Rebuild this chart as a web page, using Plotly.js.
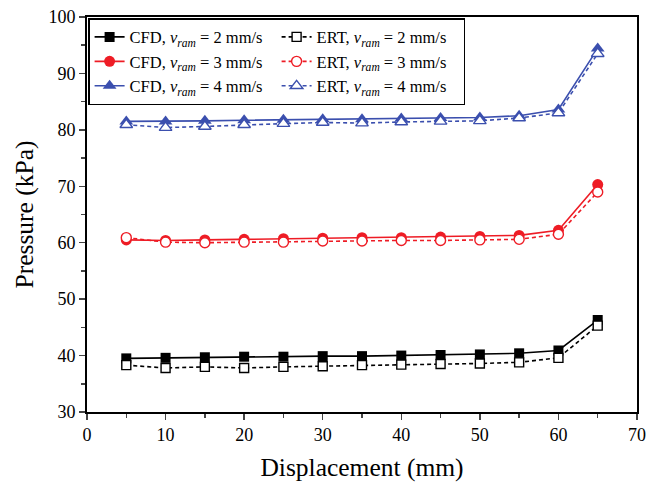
<!DOCTYPE html>
<html><head><meta charset="utf-8">
<script src="https://cdn.plot.ly/plotly-3.0.1.min.js"></script>
<style>html,body{margin:0;padding:0;background:#fff}#chart{width:655px;height:486px}</style>
</head><body><div id="chart"></div>
<script>
const displacement = [5,10,15,20,25,30,35,40,45,50,55,60,65];
const cfd2 = [39.5,39.6,39.7,39.8,39.8,39.9,39.9,40.0,40.1,40.2,40.4,40.9,46.3];
const ert2 = [38.3,37.8,38.0,37.8,38.0,38.1,38.3,38.4,38.5,38.6,38.8,39.6,45.3];
const cfd3 = [60.5,60.4,60.5,60.6,60.7,60.8,60.9,60.9,61.0,61.1,61.3,62.2,70.3];
const ert3 = [60.9,60.1,60.0,60.1,60.1,60.3,60.3,60.4,60.4,60.5,60.6,61.5,69.0];
const cfd4 = [81.5,81.5,81.6,81.7,81.8,81.9,81.9,82.0,82.1,82.2,82.5,83.6,94.4];
const ert4 = [80.9,80.4,80.6,80.9,81.1,81.3,81.2,81.4,81.5,81.6,82.1,83.0,93.5];
const names = [
 'CFD, <i>v</i><sub><i>ram</i></sub> = 2 mm/s','ERT, <i>v</i><sub><i>ram</i></sub> = 2 mm/s',
 'CFD, <i>v</i><sub><i>ram</i></sub> = 3 mm/s','ERT, <i>v</i><sub><i>ram</i></sub> = 3 mm/s',
 'CFD, <i>v</i><sub><i>ram</i></sub> = 4 mm/s','ERT, <i>v</i><sub><i>ram</i></sub> = 4 mm/s'];
const BLACK='#000000', RED='#ee1c25', BLUE='#3b4fae';
function cfd(y,name,color,sym,size){return {x:displacement,y:y,name:name,type:'scatter',mode:'lines+markers',
  line:{color:color,width:1.6},marker:{symbol:sym,size:size,color:color,line:{width:0}}};}
function ert(y,name,color,sym,size){return {x:displacement,y:y,name:name,type:'scatter',mode:'lines+markers',
  line:{color:color,width:1.6,dash:'4px,3px'},marker:{symbol:sym,size:size,color:'#ffffff',line:{color:color,width:1.4}}};}
const data=[
 cfd(cfd2,names[0],BLACK,'square',10), ert(ert2,names[1],BLACK,'square',9),
 cfd(cfd3,names[2],RED,'circle',11), ert(ert3,names[3],RED,'circle',10),
 cfd(cfd4,names[4],BLUE,'triangle-up',12), ert(ert4,names[5],BLUE,'triangle-up',11)];
const F='Liberation Serif, Times New Roman, serif';
const layout={width:655,height:486,margin:{l:87,r:18,t:17,b:74},
 paper_bgcolor:'#fff',plot_bgcolor:'#fff',font:{family:F,color:'#000'},
 xaxis:{range:[0,70],dtick:10,ticks:'outside',ticklen:6,tickwidth:1.5,showline:true,linewidth:1.8,linecolor:'#000',mirror:true,
   showgrid:false,zeroline:false,tickfont:{family:F,size:18},
   minor:{dtick:5,ticks:'outside',ticklen:4,tickwidth:1.5,showgrid:false},
   title:{text:'Displacement (mm)',font:{family:F,size:25.5},standoff:14}},
 yaxis:{range:[30,100],dtick:10,ticks:'outside',ticklen:6,tickwidth:1.5,showline:true,linewidth:1.8,linecolor:'#000',mirror:true,
   showgrid:false,zeroline:false,tickfont:{family:F,size:18},
   minor:{dtick:5,ticks:'outside',ticklen:4,tickwidth:1.5,showgrid:false},
   title:{text:'Pressure (kPa)',font:{family:F,size:25.5},standoff:8}},
 legend:{orientation:'h',x:0.002,y:0.997,xanchor:'left',yanchor:'top',entrywidth:142,entrywidthmode:'pixels',
   bgcolor:'#fff',bordercolor:'#000',borderwidth:1.5,font:{family:F,size:16.5},traceorder:'normal'},
 showlegend:true};
Plotly.newPlot('chart',data,layout,{displayModeBar:false,staticPlot:true});
</script></body></html>
